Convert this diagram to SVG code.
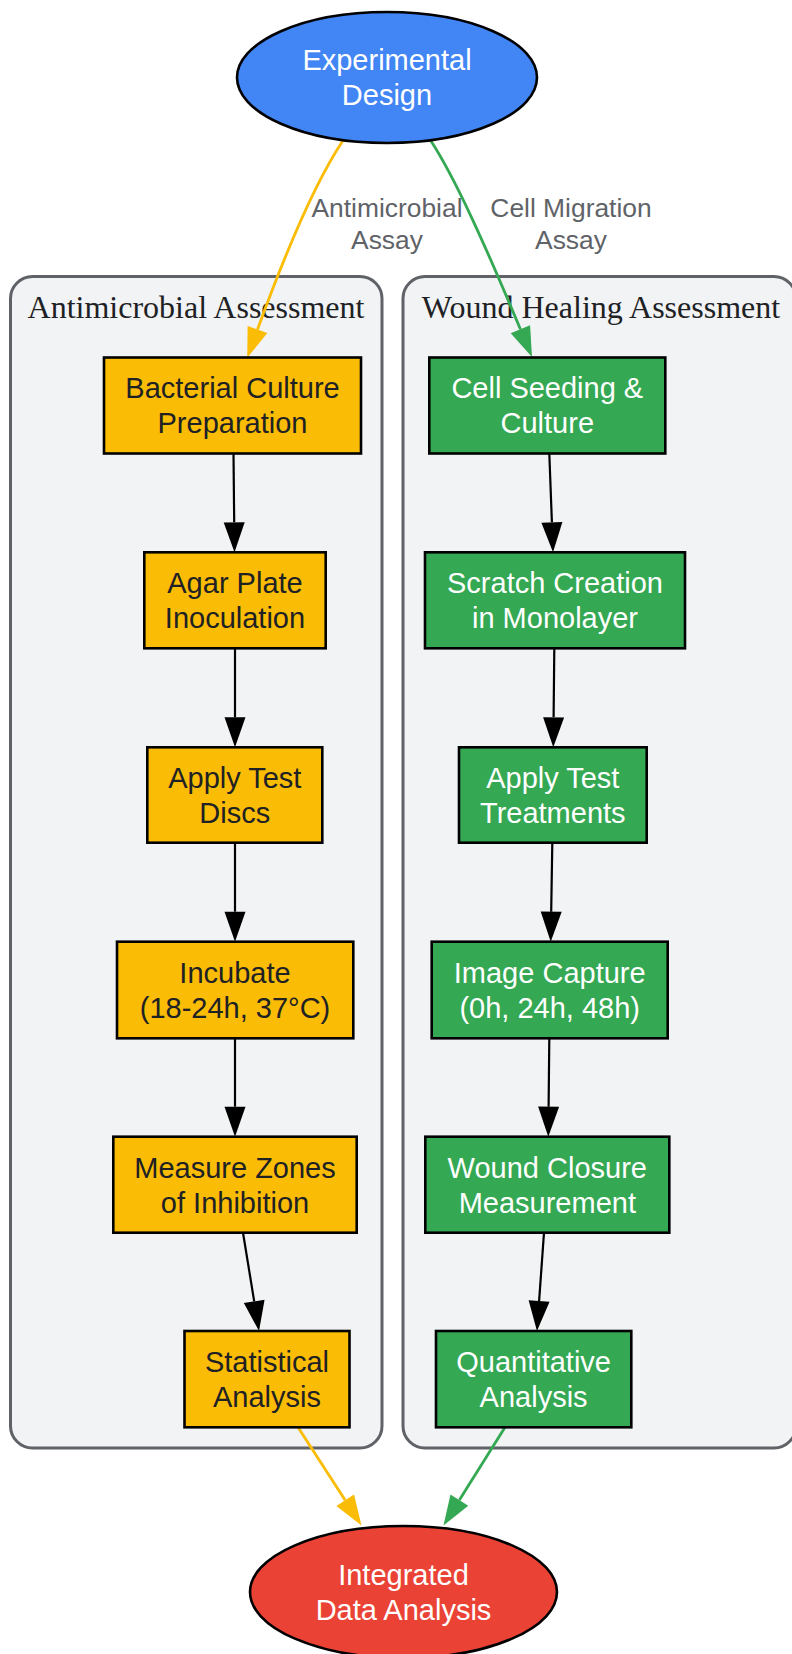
<svg xmlns="http://www.w3.org/2000/svg" width="792" height="1654" viewBox="0 0 792 1654">
<style>
.cluster{fill:#f1f3f4;stroke:#5f6368;stroke-width:3}
.ctitle{font-family:"Liberation Serif","Times New Roman",serif;font-size:32px;fill:#202124;text-anchor:middle}
.box{stroke:#000;stroke-width:2.6}
.gold{fill:#FBBC05}
.green{fill:#34A853}
.t{font-family:"Liberation Sans",Arial,sans-serif;font-size:29px;text-anchor:middle}
.dark{fill:#202124}
.light{fill:#ffffff}
.elabel{font-family:"Liberation Sans",Arial,sans-serif;font-size:26.4px;fill:#5f6368;text-anchor:middle}
.blk{fill:none;stroke:#000;stroke-width:2.2}
.eg{fill:none;stroke:#FBBC05;stroke-width:2.8}
.en{fill:none;stroke:#34A853;stroke-width:2.8}
</style>
<defs>
<marker id="aBlack" markerUnits="userSpaceOnUse" markerWidth="31" markerHeight="22" viewBox="0 0 31 22" refX="0.5" refY="11" orient="auto"><path d="M0.5,0.5 L30.5,11 L0.5,21.5 z" fill="#000"/></marker>
<marker id="aGold" markerUnits="userSpaceOnUse" markerWidth="31" markerHeight="22" viewBox="0 0 31 22" refX="0.5" refY="11" orient="auto"><path d="M0.5,0.5 L30.5,11 L0.5,21.5 z" fill="#FBBC05"/></marker>
<marker id="aGreen" markerUnits="userSpaceOnUse" markerWidth="31" markerHeight="22" viewBox="0 0 31 22" refX="0.5" refY="11" orient="auto"><path d="M0.5,0.5 L30.5,11 L0.5,21.5 z" fill="#34A853"/></marker>
</defs>

<g id="cluster_antimicrobial">
<rect class="cluster" x="10.5" y="276.5" width="371.5" height="1171.5" rx="22"/>
<text class="ctitle" x="196" y="318">Antimicrobial Assessment</text>
</g>
<g id="cluster_wound">
<rect class="cluster" x="403" y="276.5" width="393" height="1171.5" rx="22"/>
<text class="ctitle" x="601" y="318">Wound Healing Assessment</text>
</g>

<g id="connectors">
<path class="eg" d="M342.7,141 C318,178 290,240 257.5,329.5" marker-end="url(#aGold)"/>
<path class="en" d="M431,141 C455,178 483,240 520.4,329.3" marker-end="url(#aGreen)"/>
<text class="elabel" x="387" y="217">Antimicrobial</text>
<text class="elabel" x="387" y="249">Assay</text>
<text class="elabel" x="571" y="217">Cell Migration</text>
<text class="elabel" x="571" y="249">Assay</text>

<path class="blk" d="M233.5,453.5 L234.2,522.3" marker-end="url(#aBlack)"/>
<path class="blk" d="M235,648.3 L235,717.3" marker-end="url(#aBlack)"/>
<path class="blk" d="M235,842.7 L235,911.7" marker-end="url(#aBlack)"/>
<path class="blk" d="M235,1038.3 L235,1106.7" marker-end="url(#aBlack)"/>
<path class="blk" d="M243,1232.7 L254.2,1301.4" marker-end="url(#aBlack)"/>

<path class="blk" d="M549.3,453.3 L551.9,522.3" marker-end="url(#aBlack)"/>
<path class="blk" d="M554.3,648.3 L553.6,717.3" marker-end="url(#aBlack)"/>
<path class="blk" d="M552.3,843 L551.2,911.7" marker-end="url(#aBlack)"/>
<path class="blk" d="M549.3,1038.3 L548.6,1106.7" marker-end="url(#aBlack)"/>
<path class="blk" d="M544,1232.7 L539.1,1301.1" marker-end="url(#aBlack)"/>

<path class="eg" d="M298,1427.3 L345.2,1500.3" marker-end="url(#aGold)"/>
<path class="en" d="M505,1427.3 L459.4,1500.1" marker-end="url(#aGreen)"/>
</g>

<g id="experimental_design">
<ellipse cx="387" cy="77.5" rx="150" ry="65.5" fill="#4285F4" stroke="#000" stroke-width="2.6"/>
<text class="t light" x="387" y="70">Experimental</text>
<text class="t light" x="387" y="105">Design</text>
</g>

<g id="bacterial_culture">
<rect class="box gold" x="104" y="357.5" width="257" height="96"/>
<text class="t dark" x="232.5" y="398.3">Bacterial Culture</text>
<text class="t dark" x="232.5" y="433.3">Preparation</text>
</g>
<g id="agar_plate">
<rect class="box gold" x="144.3" y="552.3" width="181.4" height="96"/>
<text class="t dark" x="235" y="593.1">Agar Plate</text>
<text class="t dark" x="235" y="628.1">Inoculation</text>
</g>
<g id="apply_discs">
<rect class="box gold" x="147.3" y="747.3" width="175" height="95.4"/>
<text class="t dark" x="234.8" y="788">Apply Test</text>
<text class="t dark" x="234.8" y="823">Discs</text>
</g>
<g id="incubate">
<rect class="box gold" x="117" y="941.7" width="236.3" height="96.6"/>
<text class="t dark" x="235" y="982.7">Incubate</text>
<text class="t dark" x="235" y="1017.7">(18-24h, 37°C)</text>
</g>
<g id="measure_zones">
<rect class="box gold" x="113.3" y="1136.7" width="243.4" height="96"/>
<text class="t dark" x="235" y="1177.5">Measure Zones</text>
<text class="t dark" x="235" y="1212.5">of Inhibition</text>
</g>
<g id="statistical_analysis">
<rect class="box gold" x="184.5" y="1331" width="165" height="96.3"/>
<text class="t dark" x="267" y="1371.8">Statistical</text>
<text class="t dark" x="267" y="1406.8">Analysis</text>
</g>

<g id="cell_seeding">
<rect class="box green" x="429.3" y="357.5" width="236" height="96"/>
<text class="t light" x="547.3" y="398.3">Cell Seeding &amp;</text>
<text class="t light" x="547.3" y="433.3">Culture</text>
</g>
<g id="scratch_creation">
<rect class="box green" x="425" y="552.3" width="260" height="96"/>
<text class="t light" x="555" y="593.1">Scratch Creation</text>
<text class="t light" x="555" y="628.1">in Monolayer</text>
</g>
<g id="apply_treatments">
<rect class="box green" x="459" y="747.3" width="187.7" height="95.4"/>
<text class="t light" x="552.8" y="788">Apply Test</text>
<text class="t light" x="552.8" y="823">Treatments</text>
</g>
<g id="image_capture">
<rect class="box green" x="431.7" y="941.7" width="236" height="96.6"/>
<text class="t light" x="549.7" y="982.7">Image Capture</text>
<text class="t light" x="549.7" y="1017.7">(0h, 24h, 48h)</text>
</g>
<g id="wound_closure">
<rect class="box green" x="425.3" y="1136.7" width="244" height="96"/>
<text class="t light" x="547.3" y="1177.5">Wound Closure</text>
<text class="t light" x="547.3" y="1212.5">Measurement</text>
</g>
<g id="quantitative_analysis">
<rect class="box green" x="436" y="1331" width="195.3" height="96.3"/>
<text class="t light" x="533.6" y="1371.8">Quantitative</text>
<text class="t light" x="533.6" y="1406.8">Analysis</text>
</g>

<g id="integrated_analysis">
<ellipse cx="403.5" cy="1592" rx="153.5" ry="66" fill="#EA4335" stroke="#000" stroke-width="2.6"/>
<text class="t light" x="403.5" y="1584.5">Integrated</text>
<text class="t light" x="403.5" y="1619.5">Data Analysis</text>
</g>
</svg>
